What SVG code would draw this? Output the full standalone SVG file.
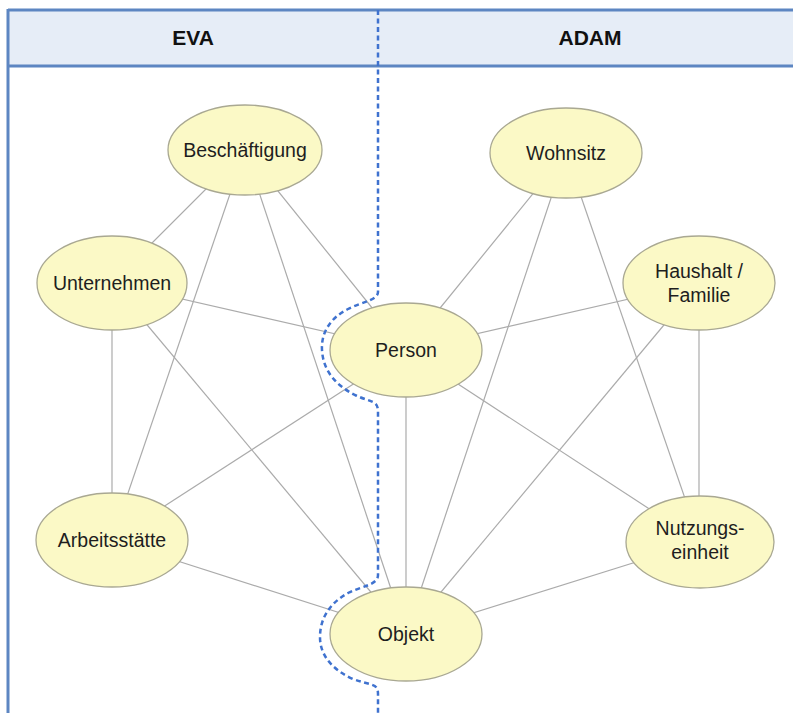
<svg xmlns="http://www.w3.org/2000/svg" width="793" height="713" viewBox="0 0 793 713">
<style>
.edge{stroke:#ababab;stroke-width:1.2;fill:none}
.node ellipse{fill:#fbf9c6;stroke:#a9a892;stroke-width:1.3}
.node text{font-family:"Liberation Sans",Arial,sans-serif;font-size:19.5px;fill:#1e1e1e;text-anchor:middle}
.hdr{font-family:"Liberation Sans",Arial,sans-serif;font-size:21px;font-weight:bold;fill:#111;text-anchor:middle}
</style>
<rect x="0" y="0" width="793" height="713" fill="#ffffff"/>
<g id="frame">
<rect x="8" y="10" width="800" height="56" fill="#e6edf7"/>
<line x1="8" y1="10" x2="793" y2="10" stroke="#5d86c2" stroke-width="3"/>
<line x1="8" y1="66" x2="793" y2="66" stroke="#5d86c2" stroke-width="3"/>
<line x1="8" y1="9" x2="8" y2="713" stroke="#5d86c2" stroke-width="3"/>
<text class="hdr" x="193" y="45">EVA</text>
<text class="hdr" x="590" y="45">ADAM</text>
</g>
<g id="connectors">
<line class="edge" x1="245" y1="150" x2="112" y2="283"/>
<line class="edge" x1="245" y1="150" x2="112" y2="540"/>
<line class="edge" x1="245" y1="150" x2="406" y2="634"/>
<line class="edge" x1="245" y1="150" x2="406" y2="350"/>
<line class="edge" x1="112" y1="283" x2="406" y2="350"/>
<line class="edge" x1="112" y1="283" x2="112" y2="540"/>
<line class="edge" x1="112" y1="283" x2="406" y2="634"/>
<line class="edge" x1="406" y1="350" x2="112" y2="540"/>
<line class="edge" x1="112" y1="540" x2="406" y2="634"/>
<line class="edge" x1="406" y1="350" x2="406" y2="634"/>
<line class="edge" x1="566" y1="153" x2="406" y2="350"/>
<line class="edge" x1="566" y1="153" x2="406" y2="634"/>
<line class="edge" x1="566" y1="153" x2="700" y2="542"/>
<line class="edge" x1="699" y1="283" x2="406" y2="350"/>
<line class="edge" x1="699" y1="283" x2="406" y2="634"/>
<line class="edge" x1="699" y1="283" x2="699" y2="542"/>
<line class="edge" x1="406" y1="350" x2="700" y2="542"/>
<line class="edge" x1="700" y1="542" x2="406" y2="634"/>
</g>
<g id="nodes">
<g id="beschaeftigung" class="node"><ellipse cx="245" cy="150" rx="77" ry="45"/><text x="245" y="157">Beschäftigung</text></g>
<g id="wohnsitz" class="node"><ellipse cx="566" cy="153" rx="76" ry="45"/><text x="566" y="160">Wohnsitz</text></g>
<g id="unternehmen" class="node"><ellipse cx="112" cy="283" rx="75" ry="47"/><text x="112" y="290">Unternehmen</text></g>
<g id="haushalt" class="node"><ellipse cx="699" cy="283" rx="76" ry="47"/><text x="699" y="278">Haushalt /</text><text x="699" y="302">Familie</text></g>
<g id="person" class="node"><ellipse cx="406" cy="350" rx="76" ry="47"/><text x="406" y="357">Person</text></g>
<g id="arbeitsstaette" class="node"><ellipse cx="112" cy="540" rx="76" ry="47"/><text x="112" y="547">Arbeitsstätte</text></g>
<g id="nutzungseinheit" class="node"><ellipse cx="700" cy="542" rx="74" ry="46"/><text x="700" y="535">Nutzungs-</text><text x="700" y="559">einheit</text></g>
<g id="objekt" class="node"><ellipse cx="406" cy="634" rx="76" ry="47"/><text x="406" y="641">Objekt</text></g>
</g>
<g id="divider">
<path d="M378,10 V292 C378,300 362,302 348,309 C330,318 321,333 322,350 C323,370 335,385 355,395 C372,403 378,400 378,412 V575 C378,585 362,586 348,593 C330,603 320,618 320,637 C320,656 333,670 353,679 C372,686 378,683 378,694 V713" fill="none" stroke="#3f72cf" stroke-width="2.5" stroke-dasharray="5,3.5"/>
</g>
</svg>
